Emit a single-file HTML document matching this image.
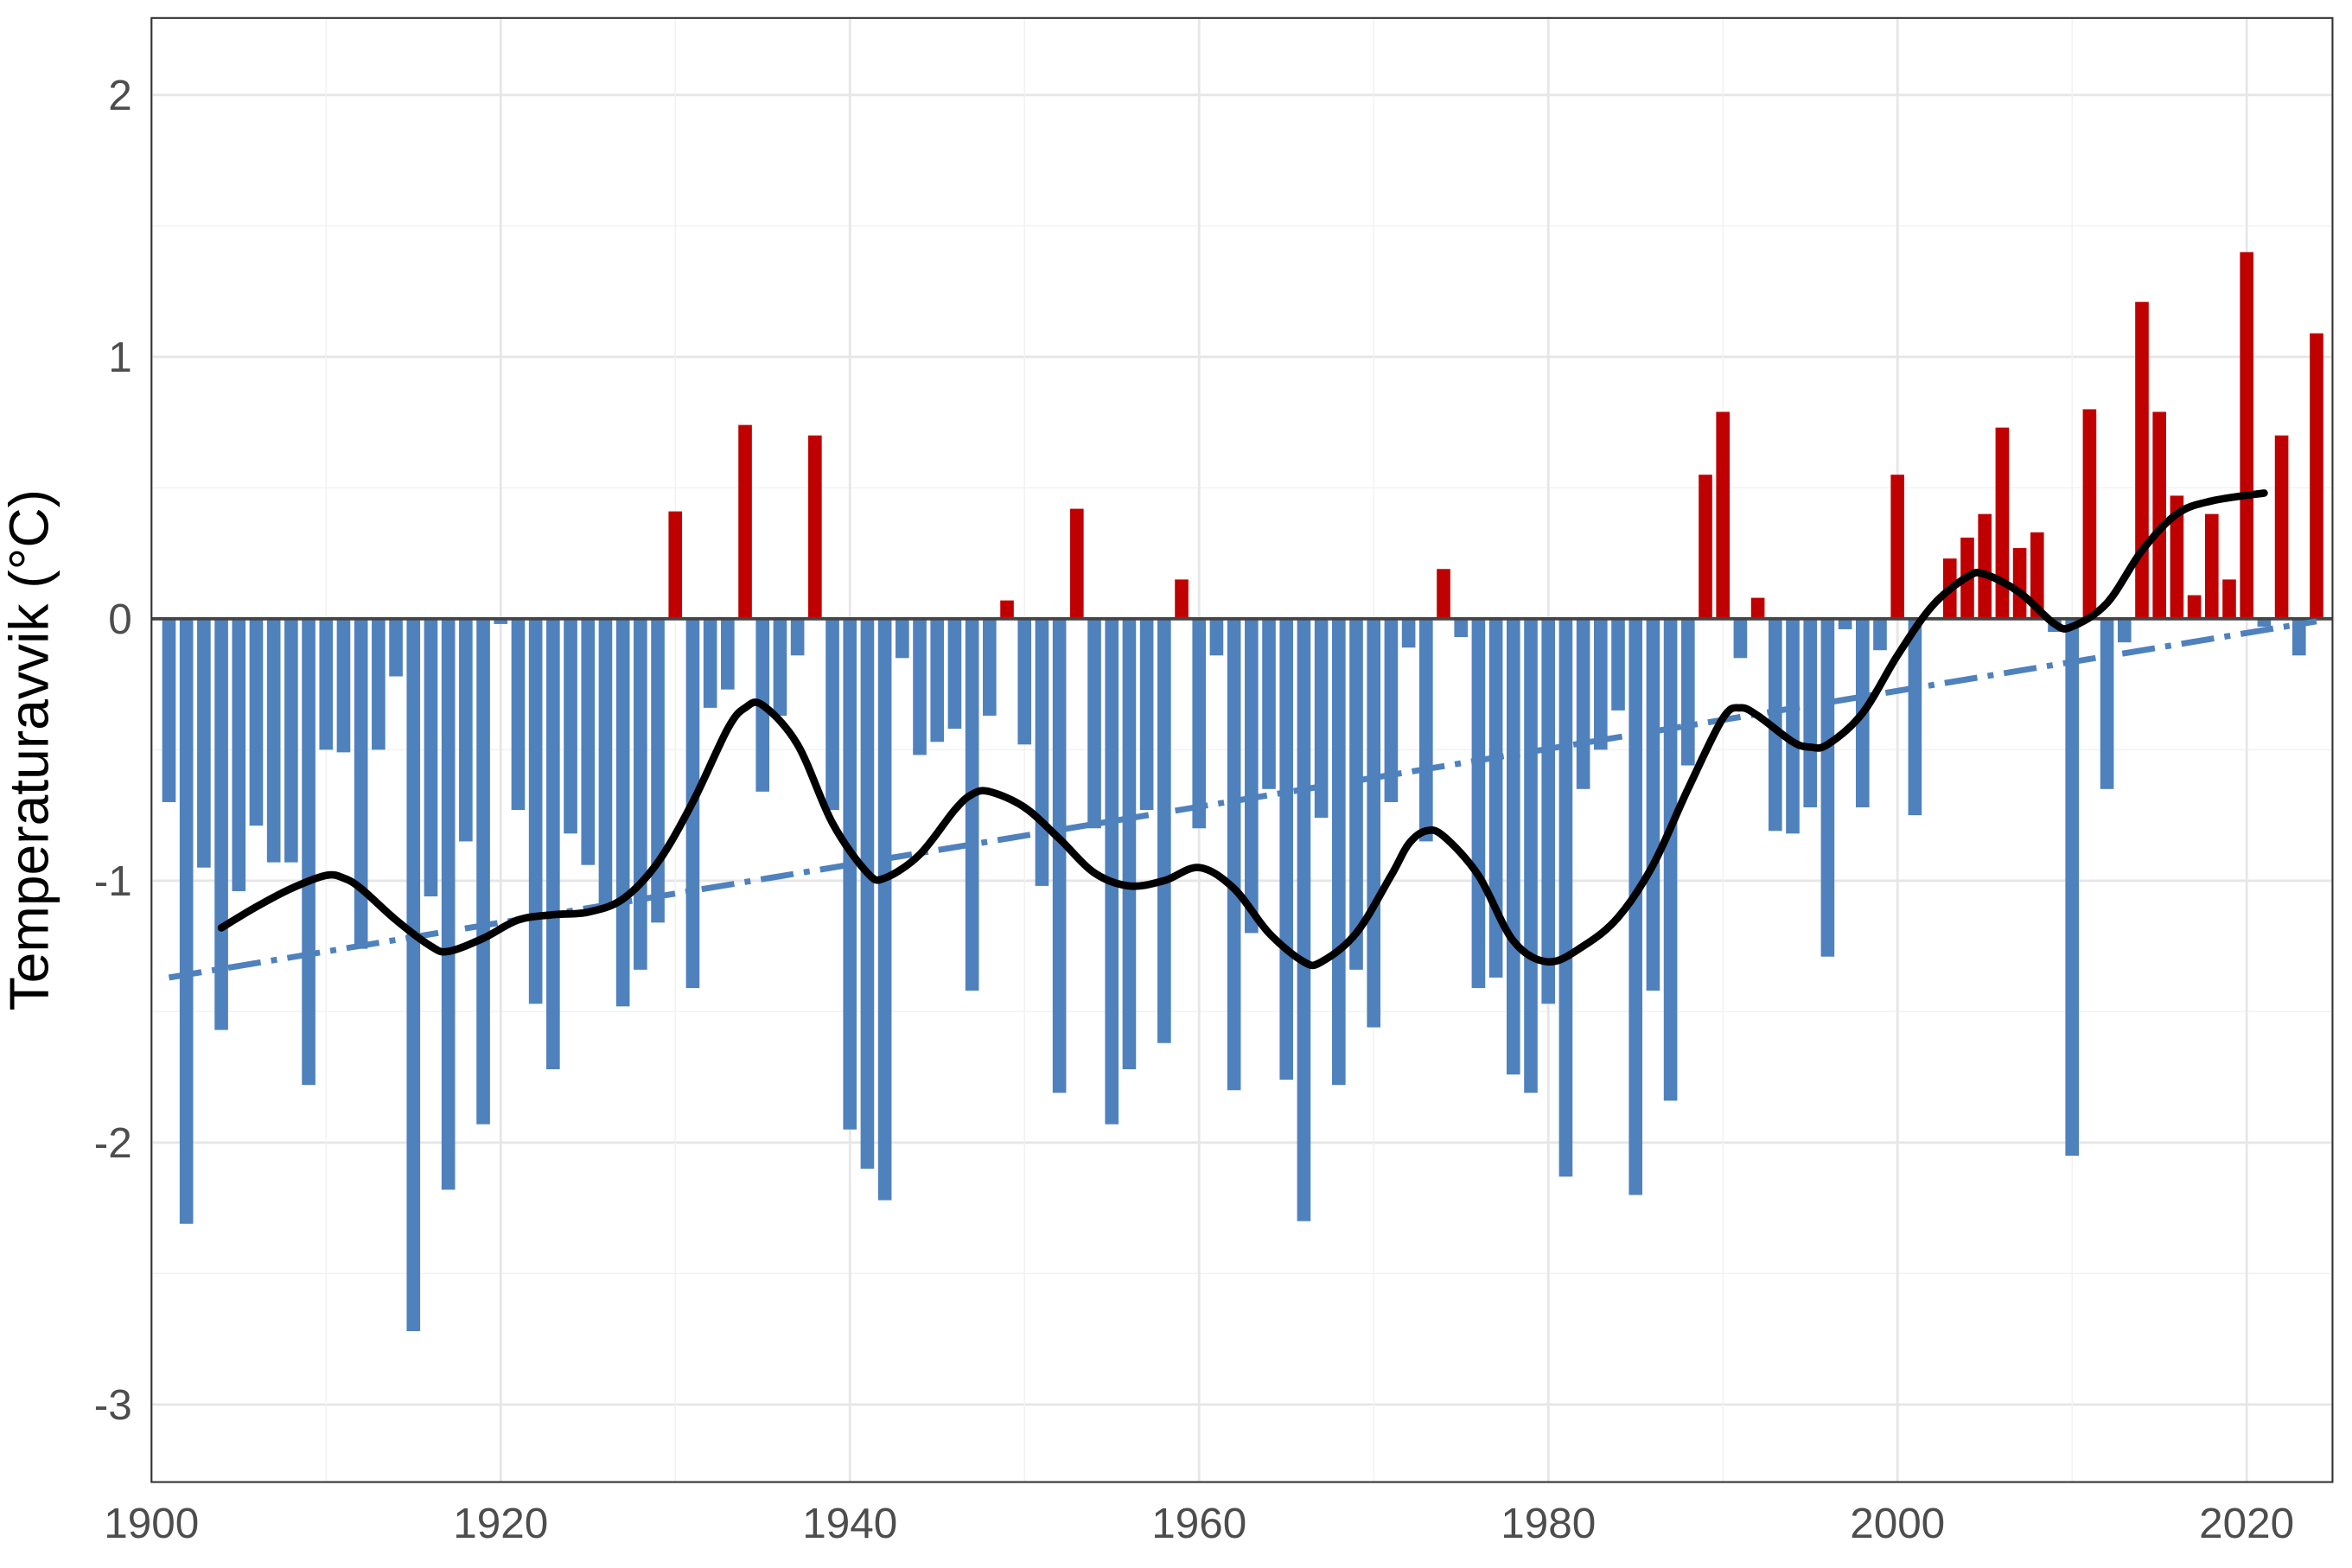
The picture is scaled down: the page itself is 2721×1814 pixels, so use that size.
<!DOCTYPE html>
<html><head><meta charset="utf-8">
<style>html,body{margin:0;padding:0;background:#fff}svg{display:block}</style>
</head><body>
<svg id="s" width="2721" height="1814" viewBox="0 0 1568 1045.3" preserveAspectRatio="none" xmlns="http://www.w3.org/2000/svg" font-family="Liberation Sans, sans-serif">
<rect x="0" y="0" width="1568" height="1046" fill="#fff"/>
<g id="grid"></g>
<g id="bars"></g>
<line x1="101" x2="1555" y1="412.5" y2="412.5" stroke="#444" stroke-width="2.2"/>
<polyline id="trend" fill="none" stroke="#4f81bd" stroke-width="4" stroke-dasharray="22,7,4,7"/>
<path id="smooth" fill="none" stroke="#000" stroke-width="5" stroke-linejoin="round" stroke-linecap="round"/>
<rect x="101" y="12" width="1454" height="976" fill="none" stroke="#333" stroke-width="1.2"/>
<g id="labels" fill="#4d4d4d" font-size="28.5"></g>
<text transform="translate(32,500) rotate(-90)" text-anchor="middle" font-size="37" fill="#000">Temperaturavvik (°C)</text>
</svg>
<script>
const X=y=>101+(y-1900)*11.64, Y=v=>412.5-v*174.6;
const ns="http://www.w3.org/2000/svg";
function el(p,t,a,txt){const e=document.createElementNS(ns,t);for(const k in a)e.setAttribute(k,a[k]);if(txt!==undefined)e.textContent=txt;document.getElementById(p).appendChild(e);}
for(let v=-3.5;v<=2.5;v+=0.5){const y=Y(v);if(y<12||y>988)continue;el("grid","line",{x1:101,x2:1555,y1:y,y2:y,stroke:Number.isInteger(v)?"#e6e6e6":"#f2f2f2","stroke-width":Number.isInteger(v)?1.6:0.9});}
for(let yr=1900;yr<=2025;yr+=10){const x=X(yr);el("grid","line",{x1:x,x2:x,y1:12,y2:988,stroke:yr%20==0?"#e6e6e6":"#f2f2f2","stroke-width":yr%20==0?1.6:0.9});}
const d=[-0.70,-2.31,-0.95,-1.57,-1.04,-0.79,-0.93,-0.93,-1.78,-0.50,-0.51,-1.26,-0.50,-0.22,-2.72,-1.06,-2.18,-0.85,-1.93,-0.02,
-0.73,-1.47,-1.72,-0.82,-0.94,-1.10,-1.48,-1.34,-1.16,0.41,-1.41,-0.34,-0.27,0.74,-0.66,-0.37,-0.14,0.70,-0.73,-1.95,
-2.10,-2.22,-0.15,-0.52,-0.47,-0.42,-1.42,-0.37,0.07,-0.48,-1.02,-1.81,0.42,-0.80,-1.93,-1.72,-0.73,-1.62,0.15,-0.80,
-0.14,-1.80,-1.20,-0.65,-1.76,-2.30,-0.76,-1.78,-1.34,-1.56,-0.70,-0.11,-0.85,0.19,-0.07,-1.41,-1.37,-1.74,-1.81,-1.47,
-2.13,-0.65,-0.50,-0.35,-2.20,-1.42,-1.84,-0.56,0.55,0.79,-0.15,0.08,-0.81,-0.82,-0.72,-1.29,-0.04,-0.72,-0.12,0.55,
-0.75,0.0,0.23,0.31,0.40,0.73,0.27,0.33,-0.05,-2.05,0.80,-0.65,-0.09,1.21,0.79,0.47,0.09,0.40,0.15,1.40,
-0.03,0.70,-0.14,1.09];
d.forEach((v,i)=>{const yr=1901+i,x=X(yr)-4.5,y0=Y(0),y1=Y(v);
el("bars","rect",{x:x,width:9,y:Math.min(y0,y1),height:Math.abs(y1-y0),fill:v>=0?"#c00000":"#4f81bd"});});
document.getElementById("trend").setAttribute("points",`${X(1901)},${Y(-1.37)} ${X(2024)},${Y(-0.01)}`);
const sm=[[1904,-1.18],[1906,-1.10],[1908,-1.03],[1910,-0.98],[1911,-0.99],[1912,-1.03],[1914,-1.15],[1916,-1.25],[1917,-1.27],[1919,-1.22],[1921,-1.15],[1923,-1.13],[1925,-1.12],[1927,-1.07],[1929,-0.93],[1931,-0.70],[1933,-0.42],[1934,-0.34],[1935,-0.33],[1937,-0.48],[1939,-0.78],[1941,-0.97],[1942,-0.99],[1944,-0.90],[1946,-0.73],[1947,-0.67],[1948,-0.66],[1950,-0.72],[1952,-0.84],[1954,-0.97],[1956,-1.02],[1958,-1.00],[1960,-0.95],[1962,-1.03],[1964,-1.20],[1966,-1.31],[1967,-1.31],[1969,-1.20],[1971,-0.98],[1972,-0.86],[1973,-0.81],[1974,-0.83],[1976,-0.98],[1978,-1.23],[1980,-1.31],[1982,-1.25],[1984,-1.14],[1986,-0.94],[1988,-0.65],[1990,-0.38],[1991,-0.34],[1992,-0.37],[1994,-0.47],[1995,-0.49],[1996,-0.48],[1998,-0.36],[2000,-0.14],[2002,0.05],[2004,0.16],[2005,0.17],[2007,0.10],[2009,-0.02],[2010,-0.03],[2012,0.06],[2014,0.26],[2016,0.40],[2018,0.45],[2021,0.48]];
const P=sm.map(([a,b])=>[X(a),Y(b)]);
let p="M"+P[0][0]+","+P[0][1];
for(let i=0;i<P.length-1;i++){const p0=P[Math.max(0,i-1)],p1=P[i],p2=P[i+1],p3=P[Math.min(P.length-1,i+2)];
const c1=[p1[0]+(p2[0]-p0[0])/6,p1[1]+(p2[1]-p0[1])/6],c2=[p2[0]-(p3[0]-p1[0])/6,p2[1]-(p3[1]-p1[1])/6];
p+=` C${c1[0]},${c1[1]} ${c2[0]},${c2[1]} ${p2[0]},${p2[1]}`;}
document.getElementById("smooth").setAttribute("d",p);
for(let v=-3;v<=2;v++)el("labels","text",{x:88,y:Y(v)+10,"text-anchor":"end"},String(v));
for(let yr=1900;yr<=2020;yr+=20)el("labels","text",{x:X(yr),y:1025,"text-anchor":"middle"},String(yr));
</script>
</body></html>
